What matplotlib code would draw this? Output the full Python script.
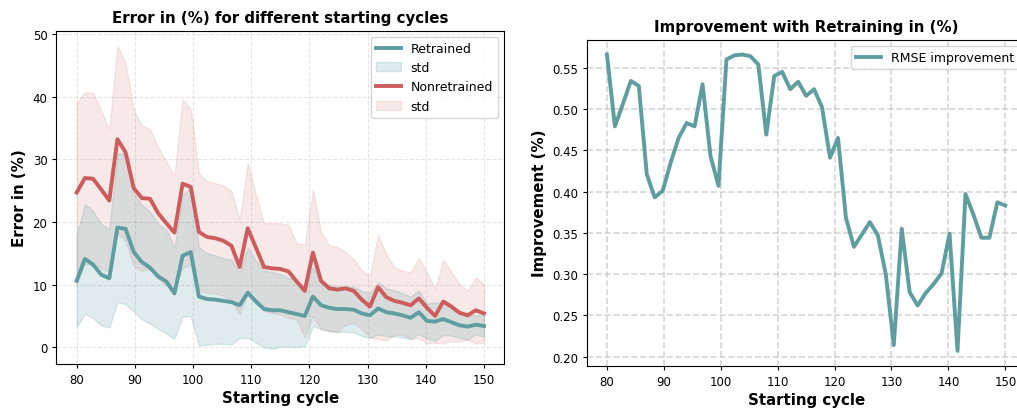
import numpy as np
import matplotlib
matplotlib.use("Agg")
import matplotlib.pyplot as plt

# starting cycles (51 points, step 1.4)
cycles = np.linspace(80, 150, 51)

retrained_mean = [10.6, 14.1, 13.2, 11.6, 11.0, 19.1, 18.9, 15.2, 13.6, 12.7,
                  11.3, 10.5, 8.6, 14.6, 15.2, 8.1, 7.7, 7.6, 7.4, 7.2,
                  6.7, 8.7, 7.3, 6.1, 5.9, 5.9, 5.6, 5.3, 5.0, 8.1,
                  6.7, 6.3, 6.1, 6.1, 6.0, 5.4, 5.1, 6.2, 5.6, 5.4,
                  5.1, 4.7, 5.6, 4.2, 4.1, 4.5, 4.0, 3.5, 3.3, 3.6, 3.4]
retrained_std = [7.35, 8.75, 8.55, 8.1, 7.85, 11.85, 12.05, 9.45, 9.15, 8.9,
                 8.4, 8.35, 7.25, 9.7, 10.3, 7.85, 7.3, 7.05, 6.85, 6.75,
                 5.25, 7.2, 6.55, 6.1, 6.15, 5.8, 5.5, 5.25, 4.8, 4.75,
                 3.75, 3.65, 3.65, 3.65, 3.65, 3.6, 3.6, 4.15, 3.8, 3.7,
                 3.55, 3.4, 3.5, 2.75, 3.1, 2.55, 2.15, 2.0, 2.1, 1.5, 1.75]

nonretrained_mean = [24.7, 27.0, 26.9, 25.2, 23.4, 33.2, 31.1, 25.4, 23.8, 23.7,
                     21.4, 19.8, 18.3, 26.1, 25.6, 18.4, 17.6, 17.4, 17.0, 16.2,
                     12.8, 19.0, 15.9, 12.8, 12.6, 12.5, 12.1, 10.5, 9.0, 15.1,
                     10.6, 9.4, 9.2, 9.4, 9.0, 7.6, 6.5, 9.6, 8.0, 7.4,
                     7.1, 6.7, 7.8, 6.3, 5.0, 7.3, 6.5, 5.5, 5.1, 5.9, 5.4]
nonretrained_std = [14.4, 13.7, 13.7, 12.6, 11.3, 14.9, 14.2, 12.4, 11.6, 11.1,
                    10.5, 9.9, 9.0, 13.5, 12.4, 9.3, 8.9, 8.8, 8.8, 8.7,
                    7.5, 10.4, 8.4, 7.0, 7.2, 7.3, 7.4, 6.1, 7.4, 10.1,
                    7.8, 6.9, 6.8, 5.8, 5.1, 4.7, 4.9, 8.3, 6.9, 5.4,
                    5.1, 5.3, 6.4, 5.7, 4.3, 6.7, 5.5, 4.6, 3.9, 5.3, 4.7]

rmse_improvement = [0.566, 0.479, 0.506, 0.534, 0.528, 0.421, 0.393, 0.401, 0.435, 0.465,
                    0.483, 0.479, 0.530, 0.443, 0.407, 0.560, 0.565, 0.566, 0.564, 0.554,
                    0.469, 0.540, 0.545, 0.524, 0.533, 0.516, 0.524, 0.502, 0.441, 0.465,
                    0.368, 0.333, 0.348, 0.363, 0.347, 0.300, 0.214, 0.355, 0.278, 0.262,
                    0.277, 0.288, 0.301, 0.349, 0.207, 0.397, 0.372, 0.344, 0.344, 0.387, 0.383]

ret_m = np.array(retrained_mean)
ret_s = np.array(retrained_std)
non_m = np.array(nonretrained_mean)
non_s = np.array(nonretrained_std)

teal = "cadetblue"
red = "indianred"

plt.rcParams["xtick.labelsize"] = 8.5
plt.rcParams["ytick.labelsize"] = 8.5
plt.rcParams["xtick.major.size"] = 3.2
plt.rcParams["ytick.major.size"] = 3.2
plt.rcParams["xtick.major.pad"] = 3.2
plt.rcParams["ytick.major.pad"] = 3.2

fig = plt.figure(figsize=(10.17, 4.10), dpi=100)
ax1 = fig.add_axes([0.0554, 0.1098, 0.4405, 0.8129])
ax2 = fig.add_axes([0.5772, 0.1056, 0.4309, 0.7951])

# left: error with std bands
ax1.plot(cycles, ret_m, color=teal, lw=2.8, label="Retrained", zorder=4)
ax1.fill_between(cycles, ret_m - ret_s, ret_m + ret_s, color=teal, alpha=0.2,
                 label="std", zorder=3)
ax1.plot(cycles, non_m, color=red, lw=2.8, label="Nonretrained", zorder=5)
ax1.fill_between(cycles, non_m - non_s, non_m + non_s, color=red, alpha=0.13,
                 label="std", zorder=2)
ax1.set_title("Error in (%) for different starting cycles", fontsize=10.8, fontweight="bold")
ax1.set_xlabel("Starting cycle", fontsize=10.8, fontweight="bold", labelpad=3)
ax1.set_ylabel("Error in (%)", fontsize=10.8, fontweight="bold")
ax1.grid(True, linestyle="--", alpha=0.3)
ax1.legend(loc="upper right", fontsize=9)

# right: improvement
ax2.plot(cycles, rmse_improvement, color=teal, lw=2.8, label="RMSE improvement")
ax2.set_title("Improvement with Retraining in (%)", fontsize=10.8, fontweight="bold")
ax2.set_xlabel("Starting cycle", fontsize=10.8, fontweight="bold", labelpad=3)
ax2.set_ylabel("Improvement (%)", fontsize=10.8, fontweight="bold")
ax2.grid(True, linestyle="--", linewidth=1.2, alpha=0.5)
ax2.legend(loc="upper right", fontsize=9)

fig.savefig("out.png", dpi=100)
